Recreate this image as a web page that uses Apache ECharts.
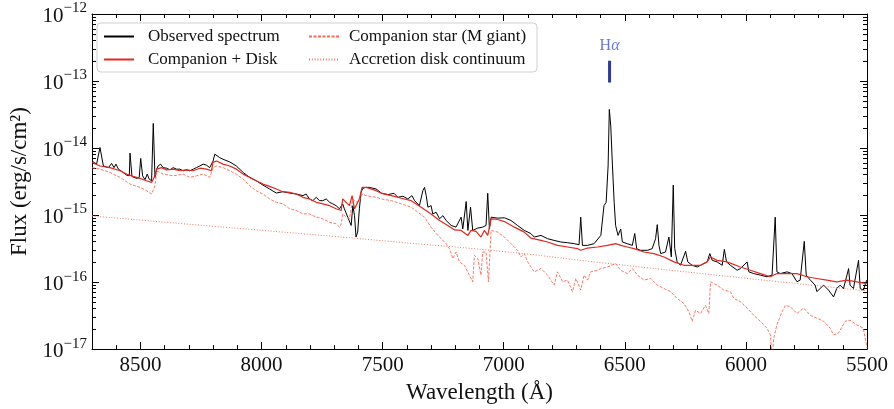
<!DOCTYPE html>
<html><head><meta charset="utf-8">
<script src="https://cdn.jsdelivr.net/npm/echarts@6/dist/echarts.min.js"></script>
<style>html,body{margin:0;padding:0;background:#fff}#c{width:894px;height:409px}</style>
</head><body><div id="c"></div>
<script>
// ---------- DATA ----------
const obsWave = [8700,8681,8667,8653,8632,8619,8609,8601,8591,8571,8557,8546,8543,8535,8516,8505,8499,8491,8481,8472,8464,8454,8447,8440,8433,8427,8417,8406,8392,8378,8365,8351,8337,8324,8310,8296,8282,8269,8255,8241,8227,8214,8207,8200,8193,8186,8173,8159,8131,8104,8076,8049,8022,7994,7967,7939,7912,7884,7857,7829,7816,7802,7788,7774,7761,7747,7733,7719,7706,7692,7678,7665,7658,7644,7630,7623,7616,7610,7603,7596,7589,7582,7568,7555,7527,7505,7478,7453,7437,7416,7396,7379,7368,7348,7334,7327,7320,7313,7300,7293,7279,7265,7251,7238,7217,7197,7176,7169,7155,7148,7137,7128,7107,7087,7073,7066,7059,7052,7025,6997,6970,6943,6915,6888,6874,6846,6819,6792,6764,6737,6709,6689,6682,6675,6654,6627,6599,6586,6577,6569,6564,6558,6551,6544,6538,6528,6517,6510,6490,6469,6459,6451,6435,6428,6407,6387,6373,6366,6359,6352,6332,6318,6308,6300,6294,6284,6270,6249,6240,6222,6201,6187,6174,6160,6149,6139,6119,6098,6089,6080,6064,6036,6023,5995,5988,5968,5940,5913,5892,5879,5872,5858,5830,5810,5789,5776,5759,5751,5734,5714,5707,5679,5659,5638,5625,5611,5597,5576,5570,5556,5535,5528,5515,5501];
const obsFlux = [6.4e-15,5.75e-15,1.02e-14,5.4e-15,5.1e-15,5.9e-15,5.1e-15,5.75e-15,4.84e-15,4.32e-15,3.94e-15,3.85e-15,8.4e-15,3.77e-15,3.52e-15,3.65e-15,7.0e-15,3.85e-15,3.37e-15,4.08e-15,3.44e-15,3.25e-15,2.33e-14,3.65e-15,4.84e-15,5.4e-15,5.75e-15,5.1e-15,5.0e-15,4.73e-15,5.1e-15,4.84e-15,4.84e-15,4.58e-15,4.73e-15,4.58e-15,4.84e-15,5.1e-15,5.4e-15,5.75e-15,5.55e-15,5.1e-15,4.84e-15,6.4e-15,8.1e-15,7.6e-15,7.2e-15,6.8e-15,6.2e-15,5.4e-15,4.32e-15,3.65e-15,3.25e-15,2.8e-15,2.45e-15,2.13e-15,2.23e-15,2.13e-15,2.06e-15,1.95e-15,2.06e-15,1.74e-15,1.64e-15,1.84e-15,1.64e-15,1.64e-15,1.74e-15,1.55e-15,1.47e-15,1.38e-15,1.24e-15,1.47e-15,1.24e-15,9.3e-16,7.0e-16,1.38e-15,9.8e-16,4.7e-16,5.57e-16,1.24e-15,2.18e-15,2.5e-15,2.59e-15,2.59e-15,2.45e-15,2.13e-15,2.02e-15,2.11e-15,1.84e-15,1.91e-15,1.74e-15,1.95e-15,1.64e-15,1.38e-15,2.31e-15,2.59e-15,1.95e-15,1.31e-15,1.38e-15,1.04e-15,1.1e-15,8.8e-16,9.8e-16,8.3e-16,7.0e-16,6.6e-16,9.3e-16,6.2e-16,1.59e-15,5.9e-16,1.31e-15,5.9e-16,6.4e-16,6.6e-16,7.0e-16,2.11e-15,6.2e-16,9.3e-16,9.0e-16,9.1e-16,8.3e-16,7.0e-16,5.9e-16,5.3e-16,4.7e-16,4.97e-16,4.44e-16,4.19e-16,3.96e-16,3.87e-16,3.74e-16,3.61e-16,9.3e-16,3.53e-16,3.53e-16,3.74e-16,4.97e-16,1.38e-15,1.55e-15,5.4e-15,3.77e-14,2.13e-14,5.4e-15,1.55e-15,7.0e-16,4.97e-16,6.2e-16,3.96e-16,3.74e-16,3.53e-16,5.3e-16,3.15e-16,2.98e-16,3.15e-16,2.98e-16,3.15e-16,4.44e-16,7.2e-16,3.53e-16,2.66e-16,2.81e-16,4.7e-16,2.37e-16,2.8e-15,3.15e-16,2.0e-16,1.78e-16,2.88e-16,2.0e-16,1.78e-16,1.68e-16,1.78e-16,1.89e-16,2.0e-16,2.66e-16,2.11e-16,2.0e-16,1.78e-16,3.08e-16,2.0e-16,1.78e-16,1.5e-16,1.59e-16,2.0e-16,1.42e-16,1.34e-16,1.27e-16,1.2e-16,1.27e-16,9.3e-16,1.42e-16,1.34e-16,1.42e-16,1.34e-16,1.01e-16,1.07e-16,4.05e-16,1.27e-16,1.07e-16,9.0e-17,7.2e-17,9.0e-17,7.6e-17,6.0e-17,8.0e-17,9.0e-17,8.0e-17,1.59e-16,9.0e-17,8.0e-17,2.11e-16,8.0e-17,7.6e-17,1.07e-16];

const cdWave = [8700,8667,8626,8584,8557,8530,8502,8475,8454,8440,8433,8413,8392,8365,8337,8310,8282,8255,8227,8207,8200,8186,8159,8131,8104,8076,8049,8022,7994,7967,7939,7912,7884,7857,7829,7802,7774,7747,7719,7692,7671,7665,7651,7637,7626,7616,7610,7596,7585,7568,7527,7505,7464,7423,7382,7341,7300,7265,7231,7203,7176,7148,7135,7114,7094,7080,7066,7052,7025,6997,6956,6915,6888,6846,6819,6778,6737,6695,6682,6654,6613,6572,6538,6517,6490,6462,6421,6380,6338,6297,6256,6215,6187,6160,6146,6119,6078,6023,5981,5940,5899,5872,5830,5789,5748,5707,5666,5625,5583,5542,5501];
const cdFlux = [6.1e-15,5.4e-15,5.1e-15,4.58e-15,4.08e-15,3.77e-15,3.52e-15,3.25e-15,3.07e-15,3.85e-15,4.84e-15,5.1e-15,4.73e-15,4.84e-15,4.58e-15,4.73e-15,4.58e-15,5.0e-15,4.84e-15,4.58e-15,6.1e-15,6.4e-15,5.75e-15,5.4e-15,4.84e-15,4.08e-15,3.65e-15,3.25e-15,2.9e-15,2.68e-15,2.45e-15,2.23e-15,2.18e-15,2.06e-15,1.84e-15,1.74e-15,1.55e-15,1.47e-15,1.38e-15,1.24e-15,1.17e-15,1.74e-15,1.55e-15,1.38e-15,1.95e-15,1.24e-15,1.17e-15,1.74e-15,2.59e-15,2.59e-15,2.31e-15,2.11e-15,1.95e-15,1.78e-15,1.64e-15,1.31e-15,1.04e-15,8.3e-16,7.0e-16,6.0e-16,5.9e-16,4.97e-16,5.9e-16,5.7e-16,4.7e-16,5.9e-16,4.97e-16,8.8e-16,8.6e-16,8.0e-16,6.6e-16,5.57e-16,4.54e-16,4.19e-16,3.96e-16,3.53e-16,3.34e-16,3.15e-16,2.98e-16,3.22e-16,3.34e-16,3.53e-16,3.74e-16,3.53e-16,3.34e-16,3.15e-16,2.81e-16,2.66e-16,2.37e-16,2.0e-16,1.78e-16,1.78e-16,1.78e-16,2.0e-16,2.37e-16,2.11e-16,2.0e-16,1.68e-16,1.5e-16,1.34e-16,1.2e-16,1.34e-16,1.34e-16,1.34e-16,1.2e-16,1.13e-16,1.07e-16,1.01e-16,1.07e-16,1.01e-16,9.5e-17];

const compWave = [8700,8667,8626,8584,8543,8502,8475,8454,8447,8440,8433,8406,8365,8324,8296,8269,8241,8214,8207,8200,8186,8159,8131,8104,8076,8049,8022,7994,7967,7939,7912,7884,7857,7829,7802,7774,7747,7719,7692,7678,7671,7665,7651,7637,7623,7610,7596,7585,7568,7527,7505,7464,7423,7382,7354,7327,7300,7272,7258,7238,7224,7210,7197,7183,7162,7142,7128,7121,7107,7094,7087,7073,7063,7052,7025,6997,6970,6943,6929,6915,6901,6874,6846,6819,6792,6778,6757,6737,6716,6702,6682,6668,6654,6641,6613,6599,6572,6538,6517,6490,6469,6448,6421,6393,6366,6338,6311,6284,6256,6235,6222,6208,6187,6167,6153,6146,6119,6091,6064,6050,6023,5995,5968,5940,5913,5899,5892,5885,5872,5851,5837,5817,5789,5762,5734,5707,5679,5652,5638,5618,5590,5570,5542,5515,5500];
const compFlux = [5.1e-15,4.84e-15,4.32e-15,3.65e-15,2.9e-15,2.59e-15,2.31e-15,2.06e-15,1.95e-15,2.74e-15,4.58e-15,4.08e-15,3.85e-15,4.08e-15,3.65e-15,3.85e-15,4.08e-15,3.65e-15,3.44e-15,5.1e-15,5.4e-15,5.1e-15,4.58e-15,4.08e-15,3.44e-15,2.74e-15,2.31e-15,2.06e-15,1.74e-15,1.55e-15,1.47e-15,1.24e-15,1.17e-15,1.04e-15,1.04e-15,9.3e-16,8.8e-16,7.8e-16,7.4e-16,6.6e-16,7.4e-16,1.04e-15,9.3e-16,8.8e-16,1.74e-15,1.55e-15,1.64e-15,2.06e-15,1.95e-15,1.84e-15,1.74e-15,1.64e-15,1.47e-15,1.31e-15,1.1e-15,9.3e-16,6.6e-16,4.97e-16,4.44e-16,3.74e-16,3.15e-16,2.24e-16,2.81e-16,2.0e-16,1.78e-16,1.27e-16,1.01e-16,2.51e-16,2.24e-16,1.27e-16,2.81e-16,2.81e-16,1.01e-16,5.9e-16,5.57e-16,4.7e-16,3.74e-16,2.98e-16,2.37e-16,2.66e-16,2.0e-16,1.42e-16,1.59e-16,1.27e-16,9.0e-17,1.42e-16,1.01e-16,1.07e-16,7.2e-17,1.13e-16,7.6e-17,1.27e-16,1.07e-16,1.42e-16,1.5e-16,1.59e-16,1.68e-16,1.89e-16,1.5e-16,1.34e-16,1.59e-16,1.27e-16,1.07e-16,1.13e-16,9.0e-17,8.0e-17,7.2e-17,5.7e-17,4.8e-17,3.6e-17,2.6e-17,3.8e-17,3.4e-17,4.5e-17,3.4e-17,1.01e-16,9.0e-17,7.6e-17,7.2e-17,5.7e-17,5.1e-17,4.1e-17,3.2e-17,2.6e-17,2.05e-17,1.63e-17,7.4e-18,1.46e-17,2.3e-17,3.6e-17,4.5e-17,4.3e-17,3.4e-17,4.1e-17,3.2e-17,2.9e-17,2.6e-17,2.05e-17,1.63e-17,1.73e-17,2.6e-17,2.7e-17,2.3e-17,2.05e-17,1.03e-17];

const diskWave = [8700,8200,7700,7472,7000,6600,6000,5500];
const diskFlux = [9.7e-16,6.8e-16,4.8e-16,4.05e-16,2.85e-16,1.95e-16,1.14e-16,7.4e-17];

const xMinorTicks = [5600,5700,5800,5900,6100,6200,6300,6400,6600,6700,6800,6900,7100,7200,7300,7400,7600,7700,7800,7900,8100,8200,8300,8400,8600];
const yMinorTicks = [];
[1e-17,1e-16,1e-15,1e-14,1e-13].forEach(function(d){ [2,3,4,5,6,7,8,9].forEach(function(m){ yMinorTicks.push(Number((m*d).toPrecision(3))); }); });

const halphaWave = 6563;
const halphaBar = [9.5e-14, 2.0e-13];
const halphaLabelFlux = 3.4e-13;

const seriesNames = ['Observed spectrum','Companion + Disk','Companion star (M giant)','Accretion disk continuum'];

// ---------- CHART ----------
const FONT = '"Liberation Serif", "DejaVu Serif", serif';
const pairs = (w, f) => w.map((x, i) => [x, f[i]]);

function supLabel(v) {
  const e = Math.round(Math.log10(v));
  return '{b|10}{s|' + (e < 0 ? '\u2212' : '') + Math.abs(e) + '}';
}

const xBase = {
  type: 'value', min: 5500, max: 8700, inverse: true, gridIndex: 0,
  splitLine: { show: false }
};
const yBase = {
  type: 'log', logBase: 10, min: 1e-17, max: 1e-12, gridIndex: 0,
  splitLine: { show: false }
};
const lineC = { color: '#000', width: 1 };

const chart = echarts.init(document.getElementById('c'), null, { renderer: 'canvas' });
chart.setOption({
  animation: false,
  backgroundColor: '#fff',
  grid: { left: 90, right: 27, top: 14, bottom: 58, containLabel: false },
  xAxis: [
    Object.assign({}, xBase, {
      position: 'bottom', interval: 500,
      axisLine: { show: true, lineStyle: lineC },
      axisTick: { show: true, inside: true, length: 7, lineStyle: lineC },
      axisLabel: { show: true, margin: 6, fontFamily: FONT, fontSize: 21, color: '#111', showMaxLabel: false,
        formatter: function (v) { return String(v); } },
      name: 'Wavelength (\u00C5)', nameLocation: 'middle', nameGap: 31,
      nameTextStyle: { fontFamily: FONT, fontSize: 23, color: '#111' }
    }),
    Object.assign({}, xBase, {
      position: 'bottom',
      axisLine: { show: false },
      axisTick: { show: true, inside: true, length: 4, lineStyle: lineC, customValues: xMinorTicks },
      axisLabel: { show: false }
    }),
    Object.assign({}, xBase, {
      position: 'top', interval: 500,
      axisLine: { show: true, lineStyle: lineC },
      axisTick: { show: true, inside: true, length: 7, lineStyle: lineC },
      axisLabel: { show: false }
    }),
    Object.assign({}, xBase, {
      position: 'top',
      axisLine: { show: false },
      axisTick: { show: true, inside: true, length: 4, lineStyle: lineC, customValues: xMinorTicks },
      axisLabel: { show: false }
    })
  ],
  yAxis: [
    Object.assign({}, yBase, {
      position: 'left',
      axisLine: { show: true, lineStyle: lineC },
      axisTick: { show: true, inside: true, length: 7, lineStyle: lineC },
      axisLabel: {
        show: true, margin: 5, formatter: supLabel,
        rich: {
          b: { fontFamily: FONT, fontSize: 21, color: '#111', lineHeight: 26, verticalAlign: 'bottom' },
          s: { fontFamily: FONT, fontSize: 15, color: '#111', lineHeight: 15, verticalAlign: 'top' }
        }
      },
      name: 'Flux (erg/s/cm\u00B2)', nameLocation: 'middle', nameGap: 61,
      nameTextStyle: { fontFamily: FONT, fontSize: 23, color: '#111' }
    }),
    Object.assign({}, yBase, {
      position: 'left',
      axisLine: { show: false },
      axisTick: { show: true, inside: true, length: 4, lineStyle: lineC, customValues: yMinorTicks },
      axisLabel: { show: false }
    }),
    Object.assign({}, yBase, {
      position: 'right',
      axisLine: { show: true, lineStyle: lineC },
      axisTick: { show: true, inside: true, length: 7, lineStyle: lineC },
      axisLabel: { show: false }
    }),
    Object.assign({}, yBase, {
      position: 'right',
      axisLine: { show: false },
      axisTick: { show: true, inside: true, length: 4, lineStyle: lineC, customValues: yMinorTicks },
      axisLabel: { show: false }
    })
  ],
  legend: [
    {
      data: [seriesNames[0], seriesNames[1]], orient: 'vertical', left: 98, top: 23,
      itemWidth: 30, itemHeight: 14, itemGap: 6, z: 10,
      itemStyle: { opacity: 0 },
      textStyle: { fontFamily: FONT, fontSize: 17, color: '#111', padding: [0, 0, 0, 9] }
    },
    {
      data: [seriesNames[2], seriesNames[3]], orient: 'vertical', left: 303, top: 23,
      itemWidth: 30, itemHeight: 14, itemGap: 6, z: 10,
      itemStyle: { opacity: 0 },
      textStyle: { fontFamily: FONT, fontSize: 17, color: '#111', padding: [0, 0, 0, 5] }
    }
  ],
  graphic: [{
    type: 'rect', z: 8, silent: true,
    shape: { x: 97, y: 23, width: 440, height: 49, r: 4 },
    style: { fill: 'rgba(255,255,255,0.85)', stroke: '#cfcfcf', lineWidth: 1 }
  }],
  series: [
    { name: seriesNames[0], type: 'line', data: pairs(obsWave, obsFlux), showSymbol: false, symbol: 'none',
      lineStyle: { color: '#000', width: 1 }, itemStyle: { color: '#000' }, z: 2 },
    { name: seriesNames[1], type: 'line', data: pairs(cdWave, cdFlux), showSymbol: false, symbol: 'none',
      lineStyle: { color: '#e2291f', width: 1.2 }, itemStyle: { color: '#e2291f' }, z: 3 },
    { name: seriesNames[2], type: 'line', data: pairs(compWave, compFlux), showSymbol: false, symbol: 'none',
      lineStyle: { color: '#f36b58', width: 0.9, type: [3, 1.5] }, itemStyle: { color: '#f36b58' }, z: 3 },
    { name: seriesNames[3], type: 'line', data: pairs(diskWave, diskFlux), showSymbol: false, symbol: 'none', smooth: true,
      lineStyle: { color: '#ef7a68', width: 1, type: [1, 1.8] }, itemStyle: { color: '#ef7a68' }, z: 3 },
    { name: 'Halpha marker', type: 'line', data: [[halphaWave, halphaBar[0]], [halphaWave, halphaBar[1]]],
      showSymbol: false, symbol: 'none', lineStyle: { color: '#2b3b9c', width: 3 }, z: 4 },
    { name: 'Halpha label', type: 'scatter', data: [[halphaWave, halphaLabelFlux]], symbolSize: 0, z: 4,
      label: { show: true, position: 'inside', formatter: '{h|H}{a|\u03B1}',
        rich: { h: { fontFamily: FONT, fontSize: 16, color: '#4657bf' },
                a: { fontFamily: FONT, fontSize: 16, fontStyle: 'italic', color: '#4657bf' } } } }
  ]
});
</script></body></html>
